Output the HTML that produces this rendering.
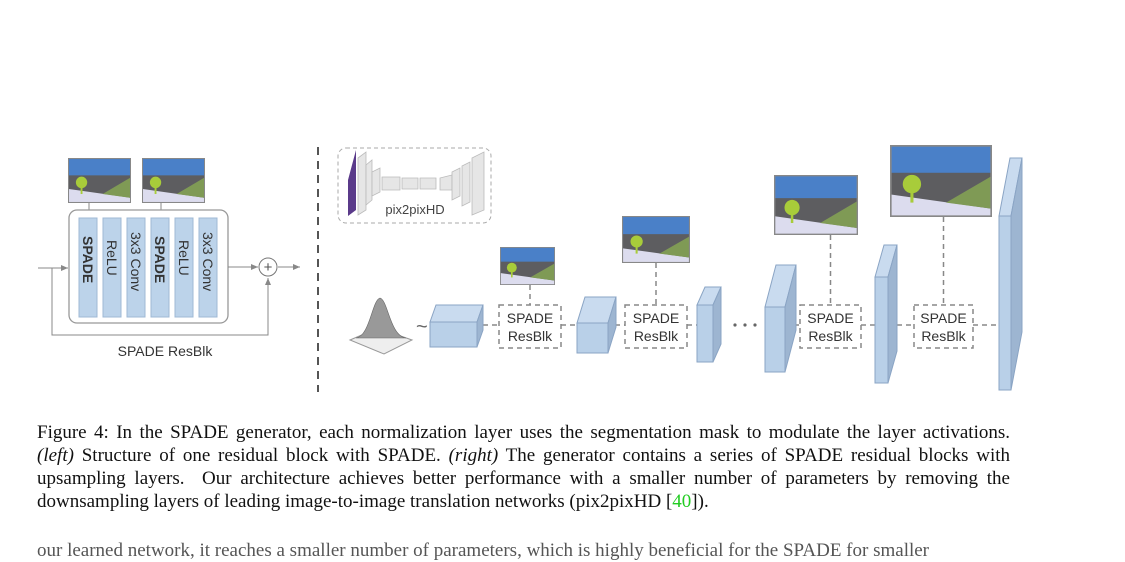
<!DOCTYPE html>
<html><head><meta charset="utf-8"><style>
body{margin:0;background:#fff;width:1125px;height:549px;overflow:hidden;position:relative}
.cap{position:absolute;left:37px;width:973px;font-family:"Liberation Serif",serif;font-size:19px;color:#111;white-space:nowrap}
.j{text-align:justify;text-align-last:justify;white-space:normal}
svg text{font-family:"Liberation Sans",sans-serif}
</style></head><body>
<svg width="1125" height="410" style="position:absolute;left:0;top:0">
<defs>
<symbol id="mask" viewBox="0 0 100 70" preserveAspectRatio="none">
<rect x="0" y="0" width="100" height="70" fill="#5d5d60"/>
<rect x="0" y="0" width="100" height="27" fill="#4a80c8"/>
<polygon points="0,48 100,62 100,70 0,70" fill="#dcdcee"/>
<polygon points="55,56 100,30 100,62" fill="#7f9a55"/>
<rect x="20" y="40" width="3" height="16" fill="#a8cc3a"/>
<circle cx="21.5" cy="38" r="9" fill="#a8cc3a"/>
<rect x="0.8" y="0.8" width="98.4" height="68.4" fill="none" stroke="#888" stroke-width="1.6"/>
</symbol>
<marker id="ar" markerWidth="8" markerHeight="8" refX="7" refY="4" orient="auto"><path d="M0,1 L7,4 L0,7" fill="#888"/></marker>
</defs>
<g>
<use href="#mask" x="68" y="158" width="63" height="45"/>
<use href="#mask" x="142" y="158" width="63" height="45"/>
<line x1="89" y1="203" x2="89" y2="217" stroke="#888" marker-end="url(#ar)"/>
<line x1="161" y1="203" x2="161" y2="217" stroke="#888" marker-end="url(#ar)"/>
<rect x="69" y="210" width="159" height="113" rx="8" fill="#fff" stroke="#999" stroke-width="1.3"/>
<g fill="#bcd3ea" stroke="#9fb8d4">
<rect x="79" y="218" width="18" height="99"/><rect x="103" y="218" width="18" height="99"/><rect x="127" y="218" width="18" height="99"/>
<rect x="151" y="218" width="18" height="99"/><rect x="175" y="218" width="18" height="99"/><rect x="199" y="218" width="18" height="99"/>
</g>
<g font-size="14" fill="#333">
<text transform="translate(83,236) rotate(90)" font-weight="bold">SPADE</text>
<text transform="translate(107,240) rotate(90)">ReLU</text>
<text transform="translate(131,232) rotate(90)">3x3 Conv</text>
<text transform="translate(155,236) rotate(90)" font-weight="bold">SPADE</text>
<text transform="translate(179,240) rotate(90)">ReLU</text>
<text transform="translate(203,232) rotate(90)">3x3 Conv</text>
</g>
<line x1="38" y1="268" x2="68" y2="268" stroke="#888" marker-end="url(#ar)"/>
<polyline points="52,268 52,335 268,335 268,278" fill="none" stroke="#888" marker-end="url(#ar)"/>
<line x1="228" y1="267" x2="258" y2="267" stroke="#888" marker-end="url(#ar)"/>
<circle cx="268" cy="267" r="9" fill="#fff" stroke="#777"/>
<text x="268" y="272" font-size="15" text-anchor="middle" fill="#555">+</text>
<line x1="278" y1="267" x2="300" y2="267" stroke="#888" marker-end="url(#ar)"/>
<text x="165" y="356" font-size="14" text-anchor="middle" fill="#333">SPADE ResBlk</text>
</g>
<line x1="318" y1="147" x2="318" y2="392" stroke="#555" stroke-width="2" stroke-dasharray="8,6"/>
<g>
<rect x="338" y="148" width="153" height="75" rx="8" fill="none" stroke="#aaa" stroke-dasharray="4,3"/>
<polygon points="348,180 356,150 356,210 348,216" fill="#5a3a8a"/>
<g fill="#e6e6e6" stroke="#bbb" stroke-width="0.8">
<polygon points="358,158 366,152 366,210 358,215"/><polygon points="366,165 372,160 372,200 366,205"/>
<polygon points="372,172 380,168 380,192 372,196"/><polygon points="382,177 400,177 400,190 382,190"/>
<polygon points="402,178 418,178 418,189 402,189"/><polygon points="420,178 436,178 436,189 420,189"/>
<polygon points="440,178 452,175 452,190 440,190"/><polygon points="452,172 460,168 460,196 452,200"/>
<polygon points="462,166 470,162 470,202 462,206"/><polygon points="472,158 484,152 484,210 472,215"/>
</g>
<text x="415" y="214" font-size="13" text-anchor="middle" fill="#444">pix2pixHD</text>
</g>
<g>
<polygon points="350,340 378,328 412,340 384,354" fill="#eee" stroke="#999"/>
<path d="M356,338 C370,336 372,300 380,298 C388,300 390,336 406,338 Z" fill="#999" stroke="#666" stroke-width="0.6"/>
<text x="416" y="333" font-size="20" fill="#666">~</text>
</g>
<g id="net"></g>
</svg>
<script>
const blockNames=['block-1','block-2','block-3','block-4','block-5','block-6'];
const net=document.getElementById('net');
const NS='http://www.w3.org/2000/svg';
function mk(t,a){const e=document.createElementNS(NS,t);for(const k in a)e.setAttribute(k,a[k]);net.appendChild(e);return e;}
const cubes=[[430,477,322,347,305,6],[577,608,323,353,297,8],[697,713,305,362,287,8],[765,785,307,372,265,11],[875,888,277,383,245,9],[999,1011,216,390,158,11]];
[[483,499],[561,577],[615,625],[687,697],[785,800],[861,875],[897,914],[973,999]].forEach(s=>{
 const l=mk('line',{x1:s[0],y1:325,x2:s[1],y2:325,stroke:'#888','stroke-width':1.5,'stroke-dasharray':'5,4'});
 });
[735,745,755].forEach(x=>{const c=mk('circle',{cx:x,cy:325,r:1.6,fill:'#666'});
 });
cubes.forEach((c,i)=>{const [a,b,y1,y2,ty,dx]=c;const dy=y1-ty;
 const g=mk('g',{});
 const p=(pts,f)=>{const e=document.createElementNS(NS,'polygon');e.setAttribute('points',pts);e.setAttribute('fill',f);e.setAttribute('stroke','#8aa4c4');e.setAttribute('stroke-width','1');g.appendChild(e);};
 p(`${a},${y1} ${b},${y1} ${b+dx},${ty} ${a+dx},${ty}`,'#c9dbef');
 p(`${b},${y1} ${b+dx},${ty} ${b+dx},${y2-dy} ${b},${y2}`,'#9db5d1');
 p(`${a},${y1} ${b},${y1} ${b},${y2} ${a},${y2}`,'#b9d0e8');});
const boxes=[[499,561,500,247,55,38],[625,687,622,216,68,47],[800,861,774,175,84,60],[914,973,890,145,102,72]];
boxes.forEach(b=>{const cx=(b[0]+b[1])/2;
 const u=mk('use',{href:'#mask',x:b[2],y:b[3],width:b[4],height:b[5]});
 
 const l=mk('line',{x1:cx,y1:b[3]+b[5],x2:cx,y2:305,stroke:'#888','stroke-width':1.5,'stroke-dasharray':'5,4'});
 
 const r=mk('rect',{x:b[0],y:305,width:b[1]-b[0],height:43,fill:'#fff',stroke:'#888','stroke-width':1.5,'stroke-dasharray':'5,4'});
 
 const t1=mk('text',{x:cx,y:323,'font-size':14,'text-anchor':'middle',fill:'#333'});t1.textContent='SPADE';
 
 const t2=mk('text',{x:cx,y:341,'font-size':14,'text-anchor':'middle',fill:'#333'});t2.textContent='ResBlk';
 });
</script>
<div>
<div class="cap j" style="top:422px">Figure 4: In the SPADE generator, each normalization layer uses the segmentation mask to modulate the layer activations.</div>
<div class="cap j" style="top:445px"><i>(left)</i> Structure of one residual block with SPADE. <i>(right)</i> The generator contains a series of SPADE residual blocks with</div>
<div class="cap j" style="top:468px">upsampling layers. &nbsp;Our architecture achieves better performance with a smaller number of parameters by removing the</div>
<div class="cap" style="top:491px">downsampling layers of leading image-to-image translation networks (pix2pixHD [<span style="color:#2c2">40</span>]).</div>
<div class="cap" style="top:540px;color:#555">our learned network, it reaches a smaller number of parameters, which is highly beneficial for the SPADE for smaller</div>
</div>
</body></html>
